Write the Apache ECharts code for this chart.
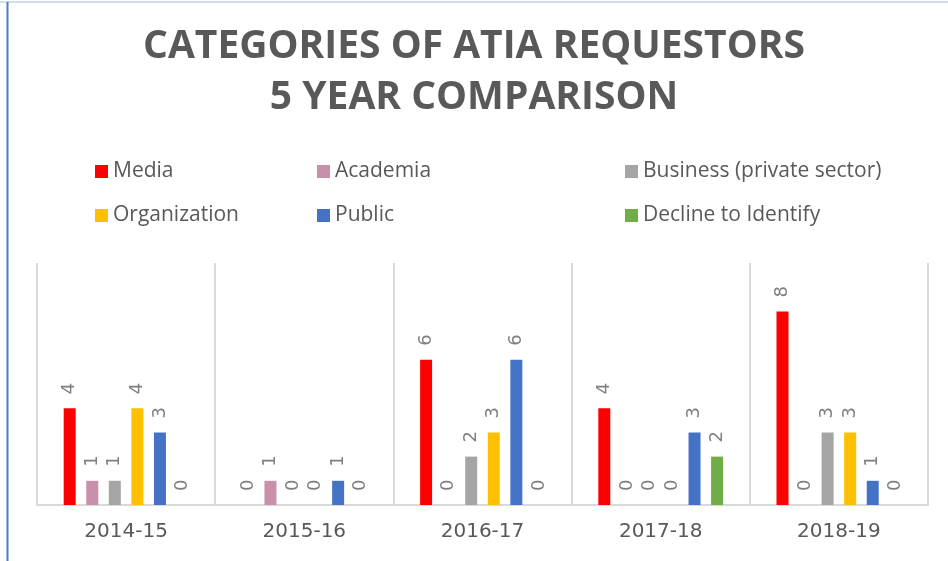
<!DOCTYPE html>
<html>
<head>
<meta charset="utf-8">
<script src="https://cdn.jsdelivr.net/npm/echarts@6/dist/echarts.min.js"></script>
<style>
  html, body { margin: 0; padding: 0; background: #fff; }
  #main { width: 948px; height: 561px; }
</style>
</head>
<body>
<div id="main"></div>
<script>
// data
const years = ["2014-15", "2015-16", "2016-17", "2017-18", "2018-19"]
const media = [4, 0, 6, 4, 8]
const academia = [1, 1, 0, 0, 0]
const business = [1, 0, 2, 0, 3]
const organization = [4, 0, 3, 0, 3]
const publicReq = [3, 1, 6, 3, 1]
const decline = [0, 0, 0, 2, 0]

const names = ["Media", "Academia", "Business (private sector)", "Organization", "Public", "Decline to Identify"]
const colors = ["#ff0000", "#c890aa", "#a5a5a5", "#ffc000", "#4472c4", "#70ad47"]
const values = [media, academia, business, organization, publicReq, decline]

const chart = echarts.init(document.getElementById("main"))

const legendText = { color: "#595959", fontSize: 21, fontFamily: "Open Sans" }
function makeLegend(left, items) {
  return {
    orient: "vertical",
    left: left,
    top: 156,
    itemWidth: 13,
    itemHeight: 13,
    itemGap: 23,
    itemStyle: { borderWidth: 0 },
    icon: "rect",
    textStyle: legendText,
    data: items
  }
}

const option = {
  animation: false,
  title: {
    text: "CATEGORIES OF ATIA REQUESTORS\n5 YEAR COMPARISON",
    left: "center",
    top: 16,
    textStyle: {
      color: "#595959",
      fontSize: 39,
      fontWeight: "bold",
      fontFamily: "Open Sans",
      lineHeight: 51
    }
  },
  legend: [
    makeLegend(90, [names[0], names[3]]),
    makeLegend(312, [names[1], names[4]]),
    makeLegend(620, [names[2], names[5]])
  ],
  grid: { left: 37, right: 20, top: 263, bottom: 56 },
  xAxis: {
    type: "category",
    data: years,
    axisTick: { show: false },
    axisLine: { lineStyle: { color: "#d9d9d9", width: 2 } },
    splitLine: { show: true, lineStyle: { color: "#d9d9d9", width: 2 } },
    axisLabel: {
      color: "#595959",
      fontSize: 20,
      fontFamily: "DejaVu Sans",
      margin: 17
    }
  },
  yAxis: {
    type: "value",
    min: 0,
    max: 10,
    show: false
  },
  series: names.map((n, i) => ({
    name: n,
    type: "bar",
    data: values[i],
    barWidth: 12,
    barGap: "88%",
    itemStyle: { color: colors[i] },
    label: {
      show: true,
      position: "top",
      rotate: 90,
      align: "left",
      verticalAlign: "middle",
      distance: 14,
      color: "#7f7f7f",
      fontSize: 18,
      fontFamily: "DejaVu Sans"
    }
  })),
  graphic: [
    { type: "line", shape: { x1: 0, y1: 2, x2: 948, y2: 2 }, style: { stroke: "#9fbce6", lineWidth: 1 } },
    { type: "line", shape: { x1: 7.5, y1: 2, x2: 7.5, y2: 561 }, style: { stroke: "#4a7ac8", lineWidth: 2 } }
  ]
}
chart.setOption(option)
</script>
</body>
</html>
